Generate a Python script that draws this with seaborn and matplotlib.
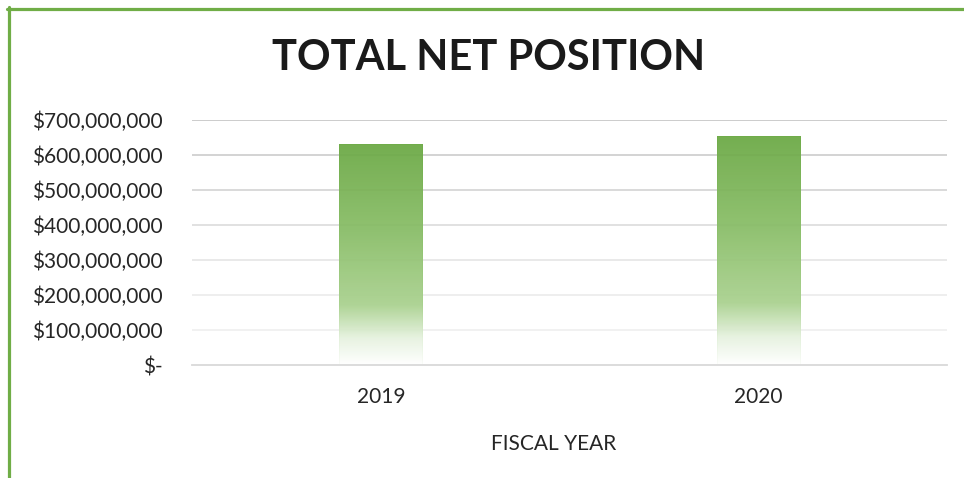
import numpy as np
import pandas as pd
import matplotlib
matplotlib.use("Agg")
import matplotlib.pyplot as plt
from matplotlib.colors import LinearSegmentedColormap
from matplotlib.lines import Line2D
import seaborn as sns

# Data
years = ["2019", "2020"]
net_position = [631_000_000, 655_000_000]
y_ticks = [0, 100_000_000, 200_000_000, 300_000_000, 400_000_000,
           500_000_000, 600_000_000, 700_000_000]

df = pd.DataFrame({"year": years, "net_position": net_position})

sns.set_style("white")
plt.rcParams["font.family"] = ["Lato", "DejaVu Sans"]

green = "#70ad47"
fig = plt.figure(figsize=(9.64, 4.78), dpi=100)
ax = fig.add_axes([192 / 964, 1 - 365 / 478, (947 - 192) / 964, (365 - 120) / 478])

sns.barplot(data=df, x="year", y="net_position", ax=ax, width=0.22,
            color=green, saturation=1, zorder=3)

ax.set_xlim(-0.5, 1.5)
ax.set_ylim(0, 700_000_000)
ax.set_yticks(y_ticks)
ax.set_yticklabels(["$-" if v == 0 else "${:,.0f}".format(v) for v in y_ticks])

# gridlines, darker at the top
grid_cols = ["#d9d9d9", "#eeeeee", "#e9e9e9", "#e3e3e3", "#d9d9d9",
             "#d0d0d0", "#c8c8c8", "#bfbfbf"]
for v, c in zip(y_ticks[1:], grid_cols[1:]):
    ax.axhline(v, color=c, lw=1.1, zorder=1)

# gradient fill in bars
cmap = LinearSegmentedColormap.from_list(
    "fade", [(0, "#ffffff"), (0.12, "#e6f2df"), (0.27, "#a9d18e"),
             (0.6, "#88bd66"), (1, "#6aa843")])
grad = np.linspace(0, 1, 256).reshape(-1, 1)
for p in list(ax.patches):
    x0, w, h = p.get_x(), p.get_width(), p.get_height()
    im = ax.imshow(grad, extent=[x0, x0 + w, 0, h], origin="lower",
                   aspect="auto", cmap=cmap, zorder=3, alpha=0.93)
    im.set_clip_path(p)
    p.set_facecolor("none")
    p.set_edgecolor("#b5d9a0")
    p.set_linewidth(0.6)
ax.set_xlim(-0.5, 1.5)
ax.set_ylim(0, 700_000_000)

for s in ["top", "right", "left"]:
    ax.spines[s].set_visible(False)
ax.spines["bottom"].set_color("#d9d9d9")
ax.spines["bottom"].set_linewidth(1.3)
ax.spines["bottom"].set_zorder(4)

ax.set_xticks([0, 1])
ax.set_xticks([-0.5, 0.5, 1.5], minor=True)
ax.tick_params(axis="x", which="minor", direction="in", length=5,
               color="#d9d9d9", width=1.3)
ax.tick_params(axis="x", which="major", length=0, pad=16,
               labelsize=15, labelcolor="#262626")
ax.tick_params(axis="y", length=0, pad=21, labelsize=15, labelcolor="#262626")
ax.set_xlabel("")
ax.set_ylabel("")

fig.text(489 / 964, 1 - 58 / 478, "TOTAL NET POSITION", ha="center",
         va="center", fontsize=30, fontweight="bold", color="#1a1a1a")
fig.text(554 / 964, 1 - 444 / 478, "FISCAL YEAR", ha="center", va="center",
         fontsize=15, color="#262626")

# green frame on top and left
fig.add_artist(Line2D([7 / 964, 1], [1 - 8.5 / 478, 1 - 8.5 / 478],
                      transform=fig.transFigure, color=green, lw=2.3))
fig.add_artist(Line2D([8.5 / 964, 8.5 / 964], [0, 1 - 7 / 478],
                      transform=fig.transFigure, color=green, lw=2.3))

fig.savefig("out.png", dpi=100)
